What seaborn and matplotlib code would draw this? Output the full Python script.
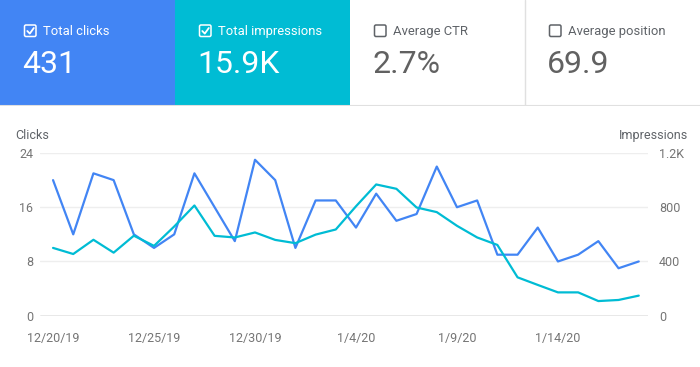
import matplotlib
matplotlib.use("Agg")
import matplotlib.pyplot as plt
from matplotlib.patches import Rectangle, FancyBboxPatch
import seaborn as sns
import pandas as pd
import numpy as np

# summary cards
card_labels = ["Total clicks", "Total impressions", "Average CTR", "Average position"]
card_values = ["431", "15.9K", "2.7%", "69.9"]
card_checked = [True, True, False, False]
card_colors = ["#4285f4", "#00bcd4", "#ffffff", "#ffffff"]

# daily series
start_date = "2019-12-20"
clicks = [20, 12, 21, 20, 12, 10, 12, 21, 16, 11, 23, 20, 10, 17, 17,
          13, 18, 14, 15, 22, 16, 17, 9, 9, 13, 8, 9, 11, 7, 8]
impressions = [500, 455, 560, 465, 590, 515, 658, 813, 589, 577, 614, 559, 535, 598, 636,
               807, 968, 936, 798, 764, 663, 577, 522, 283, 227, 172, 172, 108, 116, 148]

clicks_ticks = [0, 8, 16, 24]
impr_ticks = [0, 400, 800, 1200]
impr_tick_labels = ["0", "400", "800", "1.2K"]
date_ticks = ["2019-12-20", "2019-12-25", "2019-12-30", "2020-01-04", "2020-01-09", "2020-01-14"]
date_tick_labels = ["12/20/19", "12/25/19", "12/30/19", "1/4/20", "1/9/20", "1/14/20"]

blue = "#4285f4"
teal = "#00bcd4"
grey_text = "#757575"

sns.set_style("white")
plt.rcParams["font.family"] = ["Roboto", "DejaVu Sans"]

df = pd.DataFrame({
    "date": pd.date_range(start_date, periods=len(clicks)),
    "clicks": clicks,
    "impressions": impressions,
})

fig = plt.figure(figsize=(7, 3.67), dpi=100)
W, H = 700, 367

# ---- cards (pixel coordinates) ----
card_h = 106
cax = fig.add_axes([0, 1 - card_h / H, 1, card_h / H])
cax.set_xlim(0, W)
cax.set_ylim(card_h, 0)
cax.axis("off")
cw = W / len(card_labels)
for i, (lab, val, chk, col) in enumerate(zip(card_labels, card_values, card_checked, card_colors)):
    x0 = i * cw
    cax.add_patch(Rectangle((x0, 0), cw, card_h, color=col, lw=0))
    fg = "white" if chk else "#616161"
    box_col = "white" if chk else "#5f6368"
    cax.add_patch(FancyBboxPatch((x0 + 24.5, 25), 11.5, 11.5, boxstyle="round,pad=0,rounding_size=1.5",
                                 fill=False, ec=box_col, lw=1.1))
    if chk:
        cax.plot([x0 + 27.3, x0 + 29.8, x0 + 33.8], [31, 33.6, 28], color="white", lw=1.3,
                 solid_capstyle="round")
    cax.text(x0 + 43, 31.5, lab, color=fg if chk else "#5f6368", fontsize=9.4, va="center", ha="left")
    cax.text(x0 + 22, 64.5, val, color=fg, fontsize=23, va="center", ha="left")
cax.plot([3 * cw, 3 * cw], [0, card_h], color="#e0e0e0", lw=1)
cax.plot([0, W], [card_h - 0.5, card_h - 0.5], color="#e0e0e0", lw=1.5)

# ---- chart ----
left, right = 40 / W, 648 / W
bottom, top = (H - 315.7) / H, (H - 153) / H
ax = fig.add_axes([left, bottom, right - left, top - bottom])
sns.lineplot(data=df, x="date", y="clicks", ax=ax, color=blue, lw=1.6)
ax2 = ax.twinx()
sns.lineplot(data=df, x="date", y="impressions", ax=ax2, color=teal, lw=1.6)

ax.set_ylim(0, 24)
ax2.set_ylim(0, 1200)
ax.set_yticks(clicks_ticks)
ax.set_yticklabels([str(t) for t in clicks_ticks])
ax2.set_yticks(impr_ticks)
ax2.set_yticklabels(impr_tick_labels)
ax.set_xlim(df["date"].iloc[0] - pd.Timedelta(hours=15.5), df["date"].iloc[-1] + pd.Timedelta(hours=11))
ax.set_xticks(pd.to_datetime(date_ticks))
ax.set_xticklabels(date_tick_labels)

for a in (ax, ax2):
    for s in a.spines.values():
        s.set_visible(False)
    a.set_xlabel("")
    a.set_ylabel("")
ax.grid(axis="y", color="#eeeeee", lw=1)
ax.axhline(0, color="#9e9e9e", lw=1)
ax.tick_params(axis="y", length=0, pad=5, labelsize=9, labelcolor=grey_text)
ax.tick_params(axis="x", length=0, pad=12, labelsize=9, labelcolor=grey_text)
ax2.tick_params(axis="y", length=0, pad=8, labelsize=9, labelcolor=grey_text)

fig.text(15 / W, 1 - 136 / H, "Clicks", fontsize=9, color="#5f6368", va="center", ha="left")
fig.text(688 / W, 1 - 136 / H, "Impressions", fontsize=9, color="#5f6368", va="center", ha="right")

fig.savefig("out.png", dpi=100)
